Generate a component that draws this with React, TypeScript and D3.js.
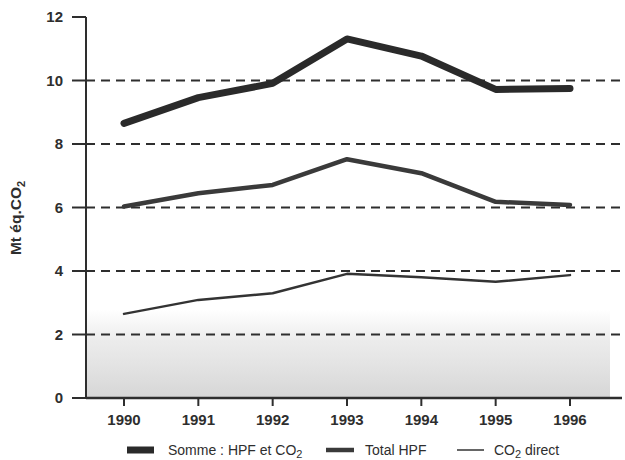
import React from "react";
import * as d3 from "d3";

const years = [1990, 1991, 1992, 1993, 1994, 1995, 1996];
const sommeValues = [8.65, 9.46, 9.91, 11.31, 10.77, 9.72, 9.75];
const totalHpfValues = [6.03, 6.45, 6.71, 7.52, 7.08, 6.18, 6.08];
const co2DirectValues = [2.65, 3.09, 3.3, 3.91, 3.8, 3.66, 3.87];
const yTicks = [0, 2, 4, 6, 8, 10, 12];
const gridTicks = [2, 4, 6, 8, 10];
const legendLabels = ["Somme : HPF et CO", "Total HPF", "CO"];

const W = 625;
const H = 460;
const left = 86;
const right = 622;
const top = 17;
const bottom = 398;
const ink = "#2e2e2e";
const font = "'Liberation Sans', Arial, Helvetica, sans-serif";

export default function App() {
  const x = d3.scaleLinear().domain([1990, 1996]).range([124, 570]);
  const y = d3.scaleLinear().domain([0, 12]).range([bottom, top]);
  const line = d3
    .line<number>()
    .x((_, i) => x(years[i]))
    .y((d) => y(d));

  const series = [
    { values: sommeValues, width: 7, color: "#2a2a2a" },
    { values: totalHpfValues, width: 4.5, color: "#3a3a3a" },
    { values: co2DirectValues, width: 2.5, color: "#333" },
  ];

  return (
    <svg
      width={W}
      height={H}
      style={{ position: "absolute", left: 0, top: 0, background: "#fff" }}
      fontFamily={font}
    >
      <defs>
        <linearGradient id="scan" x1="0" y1="0" x2="0" y2="1">
          <stop offset="0" stopColor="#d8d8d8" stopOpacity={0} />
          <stop offset="0.35" stopColor="#d4d4d4" stopOpacity={0.45} />
          <stop offset="1" stopColor="#c8c8c8" stopOpacity={0.75} />
        </linearGradient>
      </defs>
      {/* scanner shading near the bottom */}
      <rect
        x={left}
        y={y(2.8)}
        width={x(1996) + 40 - left}
        height={y(0) - y(2.8)}
        fill="url(#scan)"
      />
      {/* dashed gridlines */}
      {gridTicks.map((t) => (
        <line
          key={t}
          x1={left}
          x2={right}
          y1={y(t)}
          y2={y(t)}
          stroke={ink}
          strokeWidth={2}
          strokeDasharray="9,6"
        />
      ))}
      {/* axes */}
      <line x1={left} x2={left} y1={y(12)} y2={y(0)} stroke={ink} strokeWidth={2} />
      <line x1={left} x2={right} y1={y(0)} y2={y(0)} stroke={ink} strokeWidth={2.5} />
      {yTicks.map((t) => (
        <g key={t}>
          <line x1={72} x2={left} y1={y(t)} y2={y(t)} stroke={ink} strokeWidth={2} />
          <text
            x={63}
            y={y(t)}
            dy="0.35em"
            textAnchor="end"
            fontSize={15}
            fontWeight="bold"
            fill={ink}
          >
            {t}
          </text>
        </g>
      ))}
      {years.map((yr) => (
        <g key={yr}>
          <line x1={x(yr)} x2={x(yr)} y1={y(0)} y2={y(0) + 8} stroke={ink} strokeWidth={2} />
          <text
            x={x(yr)}
            y={425}
            textAnchor="middle"
            fontSize={15}
            fontWeight="bold"
            fill={ink}
          >
            {yr}
          </text>
        </g>
      ))}
      <text
        transform={`translate(21,218) rotate(-90)`}
        textAnchor="middle"
        fontSize={15.5}
        fontWeight="bold"
        fill={ink}
      >
        Mt éq.CO<tspan fontSize={11} dy={4}>2</tspan>
      </text>
      {/* series */}
      {series.map((s, i) => (
        <path
          key={i}
          d={line(s.values) || ""}
          fill="none"
          stroke={s.color}
          strokeWidth={s.width}
          strokeLinejoin="round"
          strokeLinecap="round"
        />
      ))}
      {/* legend */}
      <g fontSize={14} fill={ink}>
        <line x1={127} x2={154} y1={450} y2={450} stroke="#2a2a2a" strokeWidth={7} />
        <text x={168} y={455}>
          {legendLabels[0]}
          <tspan fontSize={11} dy={3}>2</tspan>
        </text>
        <line x1={326} x2={354} y1={450} y2={450} stroke="#3a3a3a" strokeWidth={4.5} />
        <text x={365} y={455}>{legendLabels[1]}</text>
        <line x1={457} x2={484} y1={450} y2={450} stroke="#333" strokeWidth={1.5} />
        <text x={494} y={455}>
          {legendLabels[2]}
          <tspan fontSize={11} dy={3}>2</tspan>
          <tspan dy={-3}> direct</tspan>
        </text>
      </g>
    </svg>
  );
}
